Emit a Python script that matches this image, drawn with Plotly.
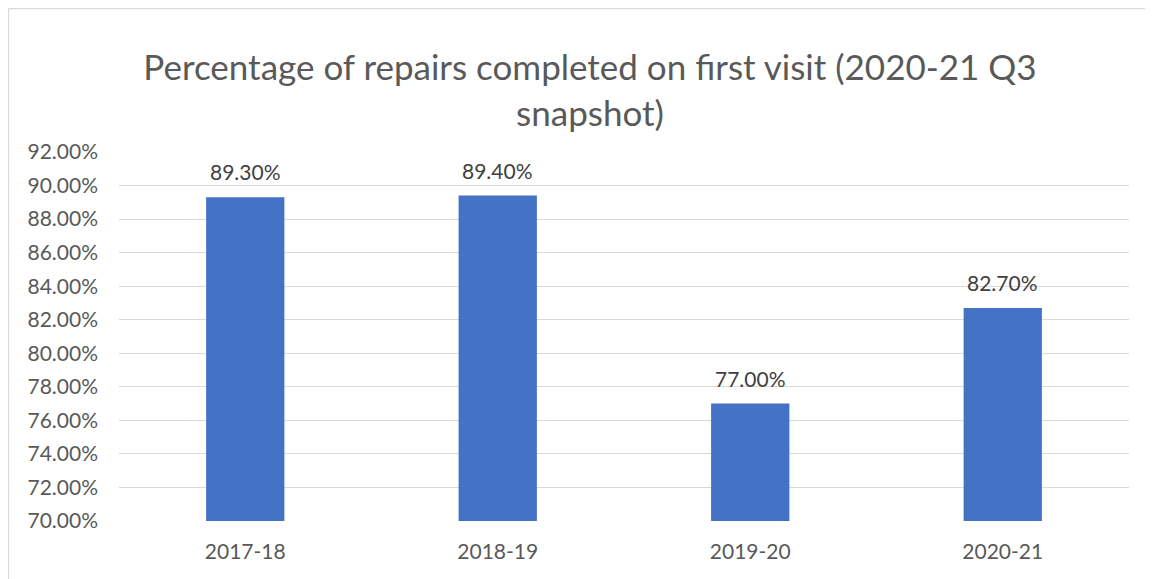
import plotly.graph_objects as go

categories = ["2017-18", "2018-19", "2019-20", "2020-21"]
values = [89.3, 89.4, 77.0, 82.7]
labels = ["89.30%", "89.40%", "77.00%", "82.70%"]
y_ticks = [70, 72, 74, 76, 78, 80, 82, 84, 86, 88, 90, 92]
y_tick_labels = [f"{v:.2f}%" for v in y_ticks]
y_min, y_max = 70, 92

# page has an 8px body margin; figure drawn at (8,8)
W, H = 1145, 571
L, R, T, B = 111, 24, 144, 58
pw, ph = W - L - R, H - T - B

fig = go.Figure(go.Bar(
    x=categories, y=[v - y_min for v in values], base=y_min,
    marker=dict(color="#4472C4", line=dict(width=0)),
    hoverinfo="skip",
))

for c, v, t in zip(categories, values, labels):
    fig.add_annotation(x=c, y=v, text=t, showarrow=False, yanchor="bottom",
                       yshift=11, font=dict(size=21, color="#404040", family="Lato"))

fig.update_layout(
    width=W, height=H,
    margin=dict(l=L, r=R, t=T, b=B),
    paper_bgcolor="white", plot_bgcolor="white",
    bargap=0.69,
    font=dict(family="Lato", color="#595959"),
    title=dict(text="Percentage of repairs completed on first visit (2020-21 Q3<br>snapshot)",
               x=(590 - 8) / W, xanchor="center", y=1 - 72 / H, yanchor="middle",
               font=dict(size=35, color="#595959", family="Lato")),
    showlegend=False,
    xaxis=dict(showgrid=False, showline=False, ticks="", ticklabelstandoff=16,
               tickfont=dict(size=21, color="#595959")),
    yaxis=dict(range=[y_min, y_max], tickvals=y_ticks, ticktext=y_tick_labels,
               showgrid=True, gridcolor="#D9D9D9", gridwidth=1.3, zeroline=False,
               showline=False, ticks="", ticklabelstandoff=20,
               tickfont=dict(size=21, color="#595959")),
    shapes=[
        dict(type="line", xref="paper", yref="paper",
             x0=(0.5 - L) / pw, x1=(0.5 - L) / pw, y0=(H - B - H) / ph, y1=(H - B - 0.5) / ph,
             line=dict(color="#D9D9D9", width=1.3), layer="below"),
        dict(type="line", xref="paper", yref="paper",
             x0=(0.5 - L) / pw, x1=(W - L) / pw, y0=(H - B - 0.5) / ph, y1=(H - B - 0.5) / ph,
             line=dict(color="#D9D9D9", width=1.3), layer="below"),
    ],
)
fig.write_html("out.html")
